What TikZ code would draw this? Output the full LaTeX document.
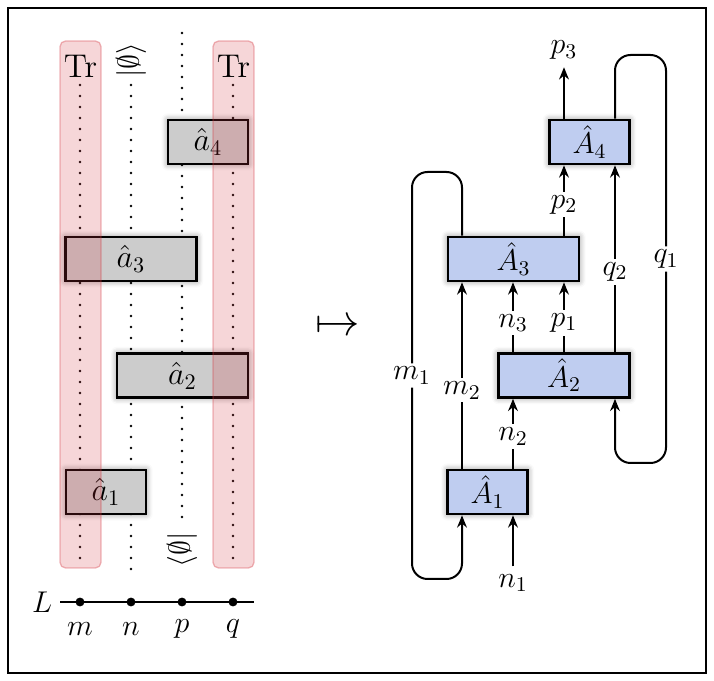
\RequirePackage{fix-cm}
\documentclass[tikz,border=0pt]{standalone}
\usepackage{amsmath}
\usepackage{amssymb}
\usepackage{xcolor}
\usepackage{tikz}
\usetikzlibrary{arrows.meta,positioning,calc,shadows.blur}

\definecolor{boxblue}{RGB}{191,205,240}
\definecolor{boxgray}{RGB}{204,204,204}
\definecolor{trred}{RGB}{210,50,60}
\newcommand{\lblfont}{\fontsize{13.5}{16}\selectfont}

\begin{document}
\begin{tikzpicture}[
    x=0.45pt, y=-0.45pt,
    font=\lblfont,
    glow/.style={blur shadow={shadow xshift=0pt, shadow yshift=0pt, shadow blur radius=3pt, shadow blur steps=6, shadow opacity=45}},
    opbox/.style={rectangle, draw, line width=1.2pt, fill=boxgray, minimum height=19.8pt, inner sep=0pt, glow, font=\Large},
    mapbox/.style={rectangle, draw, line width=1.2pt, fill=boxblue, minimum height=19.8pt, inner sep=0pt, glow},
    narrow/.style={minimum width=36pt},
    wide/.style={minimum width=59pt},
    site/.style={line width=1.3pt, line cap=round, dash pattern=on 0pt off 4.95pt},
    trace/.style={rounded corners=2.5pt, fill=trred, fill opacity=0.2, draw=trred, draw opacity=0.35, line width=0.6pt},
    sitedot/.style={circle, fill, inner sep=0pt, minimum size=4pt},
    wire/.style={line width=0.9pt},
    arrow/.style={line width=0.9pt, -{Stealth[length=5.5pt, width=4.4pt]}},
    lbl/.style={fill=white, inner sep=1.5pt}
]
    \useasboundingbox (0,0) rectangle (714,681);
    \draw[semithick] (8,8) rectangle (706,673);

    % left: chain with the dotted sites
    \coordinate (mtop) at (80,85);   \coordinate (mbot) at (80,568);
    \coordinate (ntop) at (131,85);  \coordinate (nbot) at (131,578);
    \coordinate (ptop) at (182,33);  \coordinate (pbot) at (182,526);
    \coordinate (qtop) at (233,85);  \coordinate (qbot) at (233,568);
    \draw[site] (mtop) -- (mbot);
    \draw[site] (ntop) -- (nbot);
    \draw[site] (ptop) -- (pbot);
    \draw[site] (qtop) -- (qbot);

    \node[rotate=90] (ket) at (131,60) {$|\emptyset\rangle$};
    \node[rotate=90] (bra) at (182,550) {$\langle\emptyset|$};

    \node[opbox, narrow] (a4) at (208,142) {$\hat a_4$};
    \node[opbox, wide] (a3) at (131,259) {$\hat a_3$};
    \node[opbox, wide] (a2) at (182.5,375.5) {$\hat a_2$};
    \node[opbox, narrow] (a1) at (106,492) {$\hat a_1$};

    % partial traces
    \draw[trace] (60,41) rectangle (101,568);
    \draw[trace] (213,41) rectangle (254,568);
    \node[font=\fontsize{14.8}{17}\selectfont] (trm) at (80.5,66) {Tr};
    \node[font=\fontsize{14.8}{17}\selectfont] (trq) at (233.5,66) {Tr};

    \node (L) at (42,602) {$L$};
    \coordinate (Lw) at (60,602);
    \coordinate (Le) at (254,602);
    \draw[semithick] (Lw) -- (Le);
    \node[sitedot] (sm) at (80,602) {};
    \node[sitedot] (sn) at (131,602) {};
    \node[sitedot] (sp) at (182,602) {};
    \node[sitedot] (sq) at (233,602) {};
    \node (lm) at (80,629) {$m$};
    \node (ln) at (131,629) {$n$};
    \node (lp) at (182,629) {$p$};
    \node (lq) at (233,629) {$q$};

    \node[font=\fontsize{20}{24}\selectfont] (maps) at (338,327) {$\mapsto$};

    % right: the network
    \coordinate (m1x) at (412,0);
    \coordinate (m2x) at (462,0);
    \coordinate (nx) at (513,0);
    \coordinate (px) at (564,0);
    \coordinate (q2x) at (615,0);
    \coordinate (q1x) at (666,0);

    \node[mapbox, narrow] (A4) at (589.5,142) {$\hat A_4$};
    \node[mapbox, wide] (A3) at (513.5,259) {$\hat A_3$};
    \node[mapbox, wide] (A2) at (564,375.5) {$\hat A_2$};
    \node[mapbox, narrow] (A1) at (487.5,492) {$\hat A_1$};

    \coordinate (mloopt) at (412,172);
    \coordinate (mloopb) at (412,579);
    \coordinate (qloopt) at (666,55);
    \coordinate (qloopb) at (666,463);
    \node (n1) at (513,583) {$n_1$};
    \node (p3) at (564,50) {$p_3$};

    \draw[arrow, rounded corners=7pt] (A3.north -| m2x) |- (mloopt) -- node[lbl]{$m_1$} (mloopb) -| (A1.south -| m2x);
    \draw[arrow] (A1.north -| m2x) -- node[lbl, pos=0.42]{$m_2$} (A3.south -| m2x);
    \draw[arrow] (n1) -- (A1.south -| nx);
    \draw[arrow] (A1.north -| nx) -- node[lbl, pos=0.46]{$n_2$} (A2.south -| nx);
    \draw[arrow] (A2.north -| nx) -- node[lbl, pos=0.42]{$n_3$} (A3.south -| nx);
    \draw[arrow] (A2.north -| px) -- node[lbl, pos=0.42]{$p_1$} (A3.south -| px);
    \draw[arrow] (A3.north -| px) -- node[lbl, pos=0.44]{$p_2$} (A4.south -| px);
    \draw[arrow] (A4.north -| px) -- (p3);
    \draw[arrow] (A2.north -| q2x) -- node[lbl, pos=0.43]{$q_2$} (A4.south -| q2x);
    \draw[arrow, rounded corners=7pt] (A4.north -| q2x) |- (qloopt) -- node[lbl]{$q_1$} (qloopb) -| (A2.south -| q2x);
\end{tikzpicture}
\end{document}
